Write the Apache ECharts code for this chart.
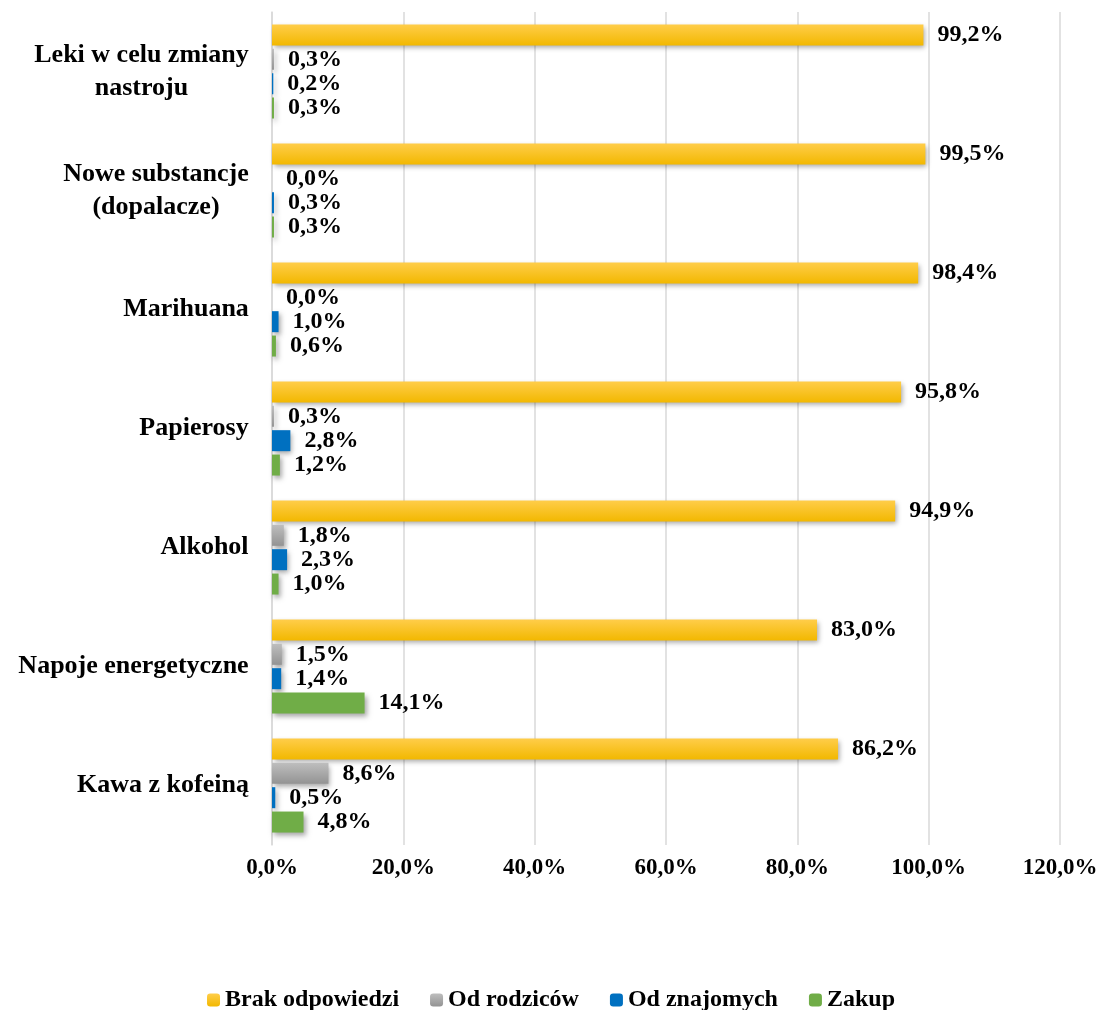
<!DOCTYPE html>
<html>
<head>
<meta charset="utf-8">
<script src="https://cdn.jsdelivr.net/npm/echarts@6/dist/echarts.min.js"></script>
<style>
  html, body { margin: 0; padding: 0; background: #fff; }
  #chart { width: 1102px; height: 1010px; }
</style>
</head>
<body>
<div id="chart"></div>
<script>
// kategorie od dołu do góry
var categories = ["Kawa z kofeiną", "Napoje energetyczne", "Alkohol", "Papierosy", "Marihuana", "Nowe substancje\n(dopalacze)", "Leki w celu zmiany\nnastroju"];
var brakOdpowiedzi = [86.2, 83.0, 94.9, 95.8, 98.4, 99.5, 99.2];
var odRodzicow = [8.6, 1.5, 1.8, 0.3, 0.0, 0.0, 0.3];
var odZnajomych = [0.5, 1.4, 2.3, 2.8, 1.0, 0.3, 0.2];
var zakup = [4.8, 14.1, 1.0, 1.2, 0.6, 0.3, 0.3];
var xTicks = [0, 20, 40, 60, 80, 100, 120];

var FONT = "'Liberation Serif', 'Times New Roman', serif";
var CAT_SIZE = 26;

function pct(v) {
    return v.toFixed(1).replace(".", ",") + "%";
}

/**
 * etykiety osi Y: wiersze wyśrodkowane względem siebie
 */
var canvas = document.createElement("canvas");
var ctx = canvas.getContext("2d");
ctx.font = "bold " + CAT_SIZE + "px " + FONT;
var rich = {};
for (var i = 0; i < categories.length; i++) {
    var lines = categories[i].split("\n");
    var w = 0;
    for (var j = 0; j < lines.length; j++) {
        w = Math.max(w, ctx.measureText(lines[j]).width);
    }
    rich["c" + i] = {
        width: Math.ceil(w) + 2,
        align: "center",
        fontFamily: FONT,
        fontWeight: "bold",
        fontSize: CAT_SIZE,
        lineHeight: 33,
        color: "#000"
    };
}

function grad(top, bottom) {
    return new echarts.graphic.LinearGradient(0, 0, 0, 1, [
        { offset: 0, color: top },
        { offset: 1, color: bottom }
    ]);
}

function makeSeries(name, data, color) {
    return {
        name: name,
        type: "bar",
        data: data,
        barWidth: 21,
        barGap: "16%",
        itemStyle: {
            color: color,
            shadowColor: "rgba(0,0,0,0.35)",
            shadowBlur: 5,
            shadowOffsetX: 2,
            shadowOffsetY: 3
        },
        label: {
            show: true,
            position: "right",
            distance: 14,
            fontFamily: FONT,
            fontWeight: "bold",
            fontSize: 24,
            color: "#000",
            formatter: function (p) { return pct(p.value); }
        }
    };
}

var chart = echarts.init(document.getElementById("chart"));
var option = {
    animation: false,
    grid: { left: 272, right: 42, top: 12, bottom: 165 },
    legend: {
        data: ["Brak odpowiedzi", "Od rodziców", "Od znajomych", "Zakup"],
        top: 983,
        left: "center",
        itemWidth: 13,
        itemHeight: 13,
        itemGap: 31,
        textStyle: { fontFamily: FONT, fontWeight: "bold", fontSize: 24, color: "#000" }
    },
    xAxis: {
        type: "value",
        min: xTicks[0],
        max: xTicks[xTicks.length - 1],
        interval: 20,
        axisLine: { show: false },
        axisTick: { show: false },
        splitLine: { lineStyle: { color: "#D9D9D9", width: 1.5 } },
        axisLabel: {
            margin: 12,
            fontFamily: FONT,
            fontWeight: "bold",
            fontSize: 23,
            color: "#000",
            formatter: function (v) { return pct(v); }
        }
    },
    yAxis: {
        type: "category",
        data: categories,
        axisTick: { show: false },
        axisLine: { show: true, lineStyle: { color: "#D9D9D9", width: 1.5 } },
        axisLabel: {
            margin: 22,
            formatter: function (v, idx) {
                var parts = v.split("\n");
                var out = [];
                for (var k = 0; k < parts.length; k++) {
                    out.push("{c" + idx + "|" + parts[k] + "}");
                }
                return out.join("\n");
            },
            rich: rich
        }
    },
    series: [
        makeSeries("Brak odpowiedzi", brakOdpowiedzi, grad("#FFCD4A", "#F2B800")),
        makeSeries("Od rodziców", odRodzicow, grad("#BEBEBE", "#939393")),
        makeSeries("Od znajomych", odZnajomych, "#0070C0"),
        makeSeries("Zakup", zakup, "#70AD47")
    ]
};
chart.setOption(option);
</script>
</body>
</html>
